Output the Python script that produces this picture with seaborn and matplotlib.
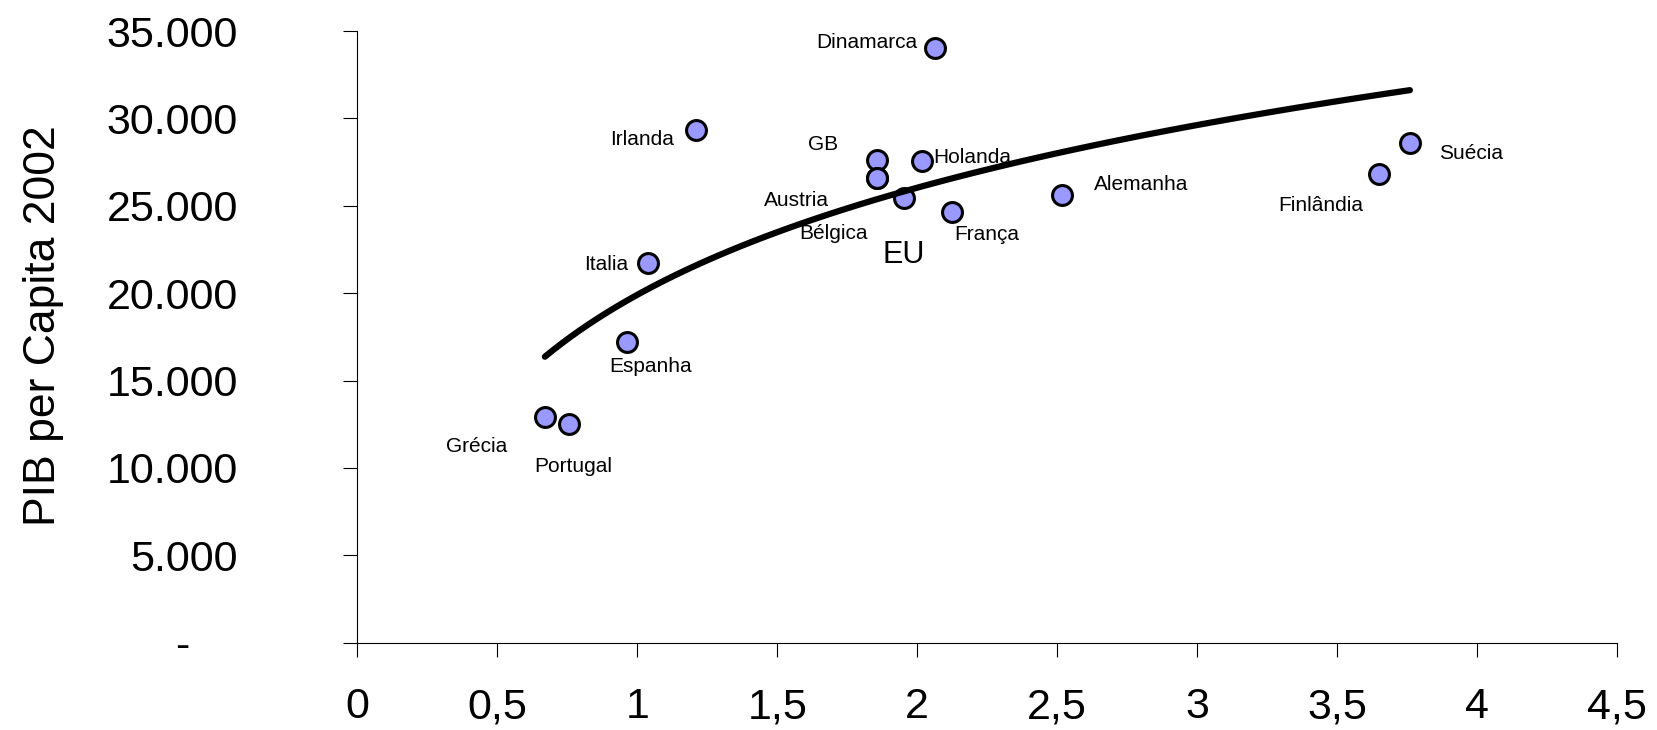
import matplotlib
matplotlib.use("Agg")
import pandas as pd
import matplotlib.pyplot as plt
import seaborn as sns

# dados: I&D (% do PIB) vs PIB per capita 2002
paises = ["Dinamarca", "Irlanda", "GB", "Austria", "Bélgica", "Holanda", "EU", "França",
          "Alemanha", "Italia", "Finlândia", "Suécia", "Espanha", "Grécia", "Portugal"]
despesa_id = [2.063, 1.209, 1.857, 1.857, 1.857, 2.016, 1.953, 2.124,
              2.517, 1.039, 3.649, 3.760, 0.964, 0.670, 0.757]
pib_capita = [34030, 29330, 27610, 26600, 26600, 27570, 25420, 24670,
              25620, 21700, 26810, 28570, 17220, 12930, 12510]

x_ticks = [0, 0.5, 1, 1.5, 2, 2.5, 3, 3.5, 4, 4.5]
x_labels = ["0", "0,5", "1", "1,5", "2", "2,5", "3", "3,5", "4", "4,5"]
y_ticks = [0, 5000, 10000, 15000, 20000, 25000, 30000, 35000]
y_labels = ["-    ", "5.000", "10.000", "15.000", "20.000", "25.000", "30.000", "35.000"]

# posição dos rótulos relativamente ao ponto (pixels: direita, baixo) e alinhamento
rot_dx = [-17, -21.5, -39, -48, -78, 12, 0, 2, 31.6, -20, -15.7, 29.3, -18.3, -37.3, -35]
rot_dy = [0, 15, -10, 28, 61.6, 2.6, 65, 28, -5, 7, 36.7, 16, 30, 35, 47.7]
rot_ha = ["right", "right", "right", "right", "left", "left", "center", "left",
          "left", "right", "right", "left", "left", "right", "left"]

df = pd.DataFrame({"pais": paises, "id": despesa_id, "pib": pib_capita})

sns.set_style("ticks")
plt.rcParams["font.family"] = ["Liberation Sans", "DejaVu Sans"]
plt.rcParams["text.color"] = "black"
plt.rcParams["axes.labelcolor"] = "black"
plt.rcParams["xtick.color"] = "black"
plt.rcParams["ytick.color"] = "black"

fig = plt.figure(figsize=(16.58, 7.3), dpi=100)
ax = fig.add_axes([0.2155, 0.1196, 0.7598, 0.8379])

sns.scatterplot(data=df, x="id", y="pib", s=205, color="#9999FF",
                edgecolor="black", linewidth=2.2, zorder=2, ax=ax, legend=False)
sns.regplot(data=df, x="id", y="pib", logx=True, ci=None, scatter=False,
            truncate=True, line_kws={"color": "black", "lw": 4.5, "zorder": 3}, ax=ax)

for nome, xv, yv, dx, dy, ha in zip(paises, despesa_id, pib_capita, rot_dx, rot_dy, rot_ha):
    ax.annotate(nome, (xv, yv), xytext=(dx, -dy), textcoords="offset pixels",
                ha=ha, va="baseline", fontsize=22 if nome == "EU" else 15,
                color="black", zorder=4)

ax.set_xlim(0, 4.5)
ax.set_ylim(0, 35000)
ax.set_xticks(x_ticks)
ax.set_xticklabels(x_labels)
ax.set_yticks(y_ticks)
ax.set_yticklabels(y_labels)

for s in ["top", "right"]:
    ax.spines[s].set_visible(False)
for s in ["left", "bottom"]:
    ax.spines[s].set_color("black")
    ax.spines[s].set_linewidth(0.8)

ax.tick_params(axis="x", direction="out", length=10, width=0.8, colors="black",
               pad=22, labelsize=31)
ax.tick_params(axis="y", direction="out", length=10, width=0.8, colors="black",
               pad=76, labelsize=31)

ax.set_xlabel("")
ax.set_ylabel("PIB per Capita 2002", fontsize=32, color="black")
ax.yaxis.set_label_coords(-0.233, 0.519)

fig.savefig("out.png", dpi=100)
